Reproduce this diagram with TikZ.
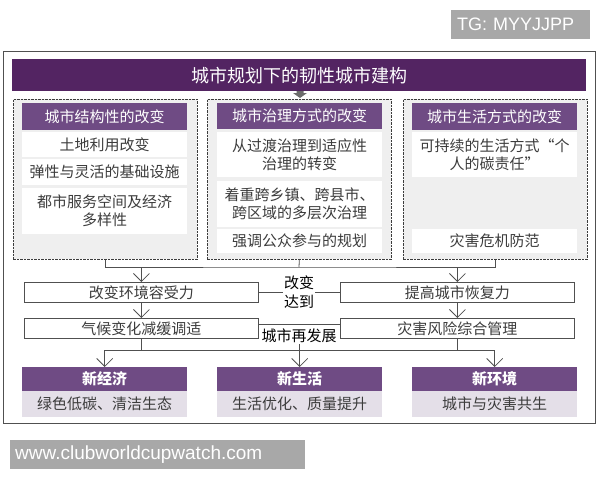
\documentclass[tikz,border=0pt]{standalone}
\usepackage{fontspec}
\setmainfont{Liberation Sans}
\newfontfamily\cjk{Noto Sans CJK SC}
\usetikzlibrary{arrows.meta}
\definecolor{titlepurple}{HTML}{532462}
\definecolor{headpurple}{HTML}{6F4B84}
\definecolor{panelfill}{HTML}{EFEFEF}
\definecolor{lavender}{HTML}{E4DFE8}
\definecolor{txtgray}{HTML}{3C3C3C}
\definecolor{linegray}{HTML}{505050}
\definecolor{wmgray}{HTML}{A8A8A8}
\tikzset{
  frame/.style={draw=linegray, line width=1.2pt},
  titlebar/.style={fill=titlepurple, text=white, inner sep=0pt, anchor=north west, font=\cjk\fontsize{18}{20}\selectfont},
  panel/.style={draw=txtgray, dash pattern=on 2.5pt off 1pt, line width=0.7pt, fill=panelfill, inner sep=0pt, anchor=north west, minimum width=184pt, minimum height=160pt},
  head/.style={fill=headpurple, text=white, inner sep=0pt, anchor=north west, minimum width=165pt, font=\cjk\fontsize{15}{18}\selectfont},
  item/.style={fill=white, text=txtgray, inner sep=0pt, anchor=north west, minimum width=165pt, align=center, font=\cjk\fontsize{15}{18}\selectfont},
  body/.style={fill=lavender, text=txtgray, inner sep=0pt, anchor=north west, minimum width=165pt, align=center, font=\cjk\fontsize{15}{18}\selectfont},
  midbox/.style={draw=linegray, fill=white, line width=0.8pt, text=txtgray, inner sep=0pt, anchor=north west, minimum width=234pt, minimum height=20pt, font=\cjk\fontsize{15}{18}\selectfont},
  lbl/.style={text=black, inner sep=1pt, align=center, font=\cjk\fontsize{15}{19}\selectfont},
  conn/.style={draw=linegray, line width=0.8pt},
  arr/.style={conn, -{Straight Barb[length=8pt,width=16pt,line width=0.8pt]}},
  wm/.style={fill=wmgray, text=white, anchor=north west, align=left, inner ysep=0pt},
}
\begin{document}
\begin{tikzpicture}[x=1pt,y=-1pt]
\useasboundingbox (0,0) rectangle (600,480);
% watermarks
\node[wm, minimum height=29pt, text width=127pt, inner xsep=6pt, font=\fontsize{18}{20}\selectfont] (tg) at (451,10) {TG: MYYJJPP};
\node[wm, minimum height=29pt, text width=285pt, inner xsep=5pt, font=\fontsize{19}{21}\selectfont] (www) at (10,440) {www.clubworldcupwatch.com};
% frame
\node[frame, anchor=north west, minimum width=592pt, minimum height=372pt, inner sep=0pt] (frame) at (3,51) {};
% title
\node[titlebar, minimum width=574pt, minimum height=32pt] (title) at (12,59) {城市规划下的韧性城市建构};
\fill[gray!85!black] (296.5,91) -- (303.5,91) -- (303.5,93) -- (307,93) -- (300,98) -- (293,93) -- (296.5,93) -- cycle;
% panels
\node[panel] (p1) at (13,99) {};
\node[panel] (p2) at (207,99) {};
\node[panel] (p3) at (403,99) {};
% panel 1
\node[head, minimum height=27pt] (h1) at (22,103) {城市结构性的改变};
\node[item, minimum height=25pt] (i11) at (22,132) {土地利用改变};
\node[item, minimum height=26pt] (i12) at (22,159) {弹性与灵活的基础设施};
\node[item, minimum height=46pt] (i13) at (22,188) {都市服务空间及经济\\多样性};
% panel 2
\node[head, minimum height=26pt] (h2) at (217,103) {城市治理方式的改变};
\node[item, minimum height=45pt] (i21) at (217,132) {从过渡治理到适应性\\治理的转变};
\node[item, minimum height=46pt] (i22) at (217,181) {着重跨乡镇、跨县市、\\跨区域的多层次治理};
\node[item, minimum height=24pt] (i23) at (217,229) {强调公众参与的规划};
% panel 3
\node[head, minimum height=27pt] (h3) at (412,103) {城市生活方式的改变};
\node[item, minimum height=45pt] (i31) at (412,132) {可持续的生活方式“个\\人的碳责任”};
\node[item, minimum height=24pt] (i32) at (412,229) {灾害危机防范};
% middle boxes
\node[midbox] (a) at (24,282) {改变环境容受力};
\node[midbox] (b) at (24,318) {气候变化减缓调适};
\node[midbox] (c) at (340,282) {提高城市恢复力};
\node[midbox] (d) at (340,318) {灾害风险综合管理};
% bottom boxes
\node[head, minimum height=24pt, font=\cjk\bfseries\fontsize{15}{18}\selectfont] (e1) at (22,367) {新经济};
\node[body, minimum height=26pt] (f1) at (22,391) {绿色低碳、清洁生态};
\node[head, minimum height=24pt, font=\cjk\bfseries\fontsize{15}{18}\selectfont] (e2) at (217,367) {新生活};
\node[body, minimum height=26pt] (f2) at (217,391) {生活优化、质量提升};
\node[head, minimum height=24pt, font=\cjk\bfseries\fontsize{15}{18}\selectfont] (e3) at (412,367) {新环境};
\node[body, minimum height=26pt] (f3) at (412,391) {城市与灾害共生};
% connectors top
\coordinate (jA) at (299,267);
\draw[conn] (p1.south) |- (jA) -| (p3.south);
\draw[conn] (p2.south) -- (jA);
\draw[arr] (a.north |- jA) -- (a.north);
\draw[arr] (c.north |- jA) -- (c.north);
\draw[arr] (a.south) -- (b.north);
\draw[arr] (c.south) -- (d.north);
% middle links
\draw[conn] (a.east) -- (c.west);
\node[lbl, fill=white] (l1) at (299,292) {改变\\达到};
\draw[conn] ([yshift=-6pt]b.north east) -- ([yshift=-6pt]d.north west);
\node[lbl] (l2) at (299,336) {城市再发展};
% connectors bottom
\coordinate (jB) at (299,350);
\draw[conn] (e1.north |- jB) -- (e3.north |- jB);
\draw[conn] (b.south) -- (b.south |- jB);
\draw[conn] (d.south) -- (d.south |- jB);
\draw[conn] (l2.south) -- (l2.south |- jB);
\draw[arr] (e1.north |- jB) -- (e1.north);
\draw[arr] (e2.north |- jB) -- (e2.north);
\draw[arr] (e3.north |- jB) -- (e3.north);
\end{tikzpicture}
\end{document}
